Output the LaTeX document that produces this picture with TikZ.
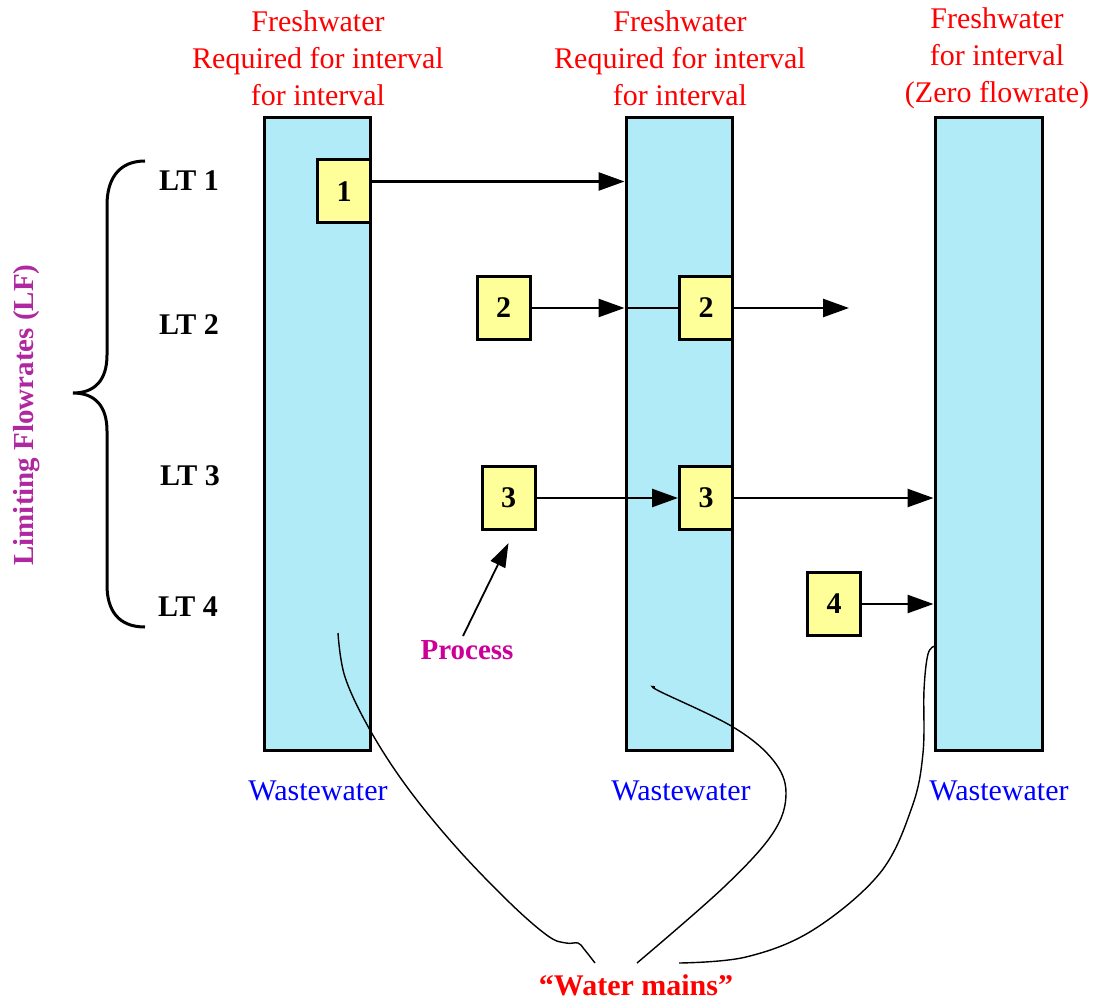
\documentclass[tikz,border=0pt]{standalone}
\usepackage{fontspec}
\setmainfont{Liberation Serif}
\usetikzlibrary{arrows.meta,calc}
\definecolor{colfill}{RGB}{178,235,248}
\definecolor{boxfill}{RGB}{255,255,153}
\definecolor{procmag}{RGB}{204,0,153}
\definecolor{lfpurple}{RGB}{176,40,160}
\begin{document}
\begin{tikzpicture}[x=1pt,y=-1pt,
  colbox/.style={draw=black,line width=3pt,fill=colfill,inner sep=0pt,minimum width=106pt,minimum height=632pt},
  procbox/.style={draw=black,line width=3pt,fill=boxfill,inner sep=0pt,minimum width=53pt,minimum height=63pt,font=\fontsize{30}{32}\selectfont\bfseries},
  arr/.style={line width=2.6pt,-{Triangle[length=26pt,width=18pt]}},
  plain/.style={line width=2.6pt},
  hdr/.style={text=red,align=center,font=\fontsize{30}{37}\selectfont,inner sep=0pt},
  waste/.style={text=blue,font=\fontsize{30}{36}\selectfont,inner sep=0pt},
  ltlab/.style={font=\fontsize{30}{34}\selectfont\bfseries,inner sep=0pt},
  mains/.style={line width=1.4pt}
]
\useasboundingbox (0,0) rectangle (1094,1000);

% columns
\node[colbox] (c1) at (317,434) {};
\node[colbox] (c2) at (679,434) {};
\node[colbox,minimum width=107pt] (c3) at (988.5,434) {};

% headers
\node[hdr] (h1) at (318,58) {Freshwater\\Required for interval\\for interval};
\node[hdr] (h2) at (680,58) {Freshwater\\Required for interval\\for interval};
\node[hdr] (h3) at (997,58) {Freshwater\\for interval\\(Zero flowrate)};

% wastewater
\node[waste] (w1) at (318,791) {Wastewater};
\node[waste] (w2) at (681,791) {Wastewater};
\node[waste] (w3) at (999,791) {Wastewater};

% process boxes
\node[procbox] (b1) at (344,191.5) {1};
\node[procbox] (b2a) at (503.5,308) {2};
\node[procbox] (b2b) at (706,308) {2};
\node[procbox] (b3a) at (508.5,498) {3};
\node[procbox] (b3b) at (706,498) {3};
\node[procbox] (b4) at (834,604) {4};

% arrows
\coordinate (a1) at ([yshift=10pt]b1.east);
\draw[arr] (a1) -- (a1 -| c2.west);
\draw[arr] (b2a.east) -- (b2a.east -| c2.west);
\draw[plain] (b2a.east -| c2.west) -- (b2b.west);
\coordinate (e2) at (849,308);
\draw[arr] (b2b.east) -- (e2);
\draw[arr] (b3a.east) -- (b3b.west);
\draw[arr] (b3b.east) -- (b3b.east -| c3.west);
\draw[arr] (b4.east) -- (b4.east -| c3.west);

% LT labels and brace
\node[ltlab] (lt1) at (189,181) {LT 1};
\node[ltlab] (lt2) at (189,325) {LT 2};
\node[ltlab] (lt3) at (190,476) {LT 3};
\node[ltlab] (lt4) at (188,607) {LT 4};
\draw[line width=3pt] (145,161) .. controls (118,161) and (107,180) .. (107,205) -- (107,355)
  .. controls (107,380) and (95,393) .. (73,393)
  .. controls (95,393) and (107,406) .. (107,431) -- (107,585)
  .. controls (107,610) and (118,627) .. (145,627);
\node[rotate=90,text=lfpurple,font=\fontsize{29}{34}\selectfont\bfseries,inner sep=0pt] (lf) at (27,415) {Limiting Flowrates (LF)};

% process label
\node[text=procmag,font=\fontsize{29}{34}\selectfont\bfseries,inner sep=0pt] (proc) at (467,650) {Process};
\coordinate (ptip) at ([yshift=-12pt]b3a.south);
\coordinate (pstart) at (463,636);
\draw[line width=1.8pt,-{Triangle[length=24pt,width=16pt]}] (pstart) -- (ptip);

% water mains
\node[text=red,font=\fontsize{30}{36}\selectfont\bfseries,inner sep=0pt] (wm) at (636,985) {“Water mains”};
\draw[mains] plot[smooth,tension=0.6] coordinates {(338,633) (345,677) (370,730) (407,787) (456,847) (510,903) (548,936) (566,943) (578,943) (584,949) (595,963)};
\draw[mains] plot[smooth,tension=0.6] coordinates {(655,687) (659,691) (733,727) (773,760) (786,793) (773,833) (724,887) (637,963)};
\draw[mains] plot[smooth,tension=0.6] coordinates {(935,646) (928,654) (924,690) (923,753) (912,807) (880,873) (813,930) (746,957) (679,963)};
\end{tikzpicture}
\end{document}
